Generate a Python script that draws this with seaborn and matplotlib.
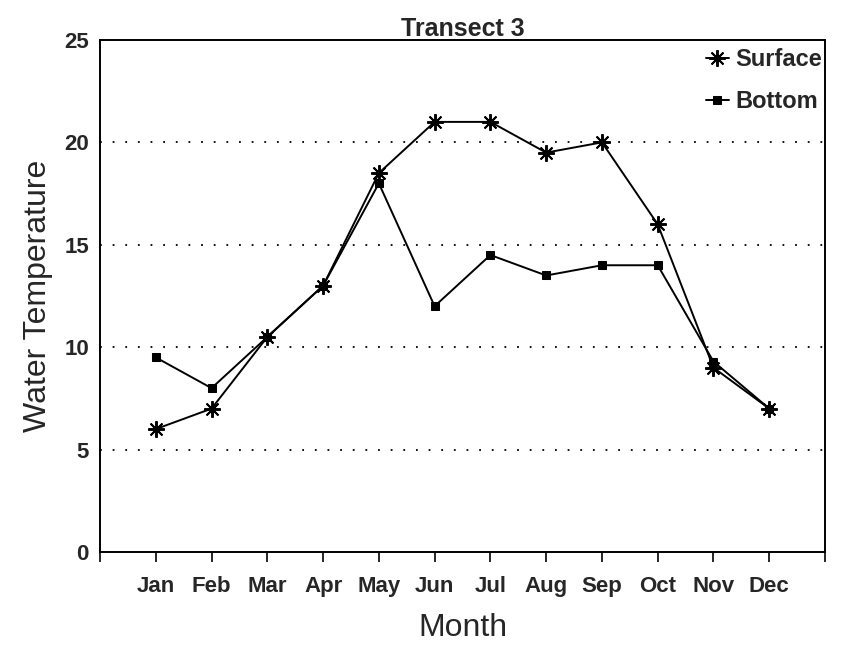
import pandas as pd
import matplotlib.pyplot as plt
import seaborn as sns

# --- datos ---
months = ['Jan', 'Feb', 'Mar', 'Apr', 'May', 'Jun', 'Jul', 'Aug', 'Sep', 'Oct', 'Nov', 'Dec']
month_num = list(range(1, 13))
surface = [6, 7, 10.5, 13, 18.5, 21, 21, 19.5, 20, 16, 9, 7]
bottom = [9.5, 8, 10.5, 13, 18, 12, 14.5, 13.5, 14, 14, 9.3, 7]

df = pd.DataFrame({'mes': month_num, 'Surface': surface, 'Bottom': bottom})

sns.set_style('white')
plt.rcParams['font.family'] = ['Liberation Sans', 'DejaVu Sans']

fig = plt.figure(figsize=(8.44, 6.5), dpi=100)
ax = fig.add_axes([0.1185, 0.1508, 0.859, 0.7877])

sns.lineplot(data=df, x='mes', y='Surface', color='black', lw=1.4,
             marker=(8, 2, 0), markersize=12, markeredgewidth=1.4,
             markeredgecolor='black', label='Surface', ax=ax)
sns.lineplot(data=df, x='mes', y='Bottom', color='black', lw=1.4,
             marker='s', markersize=6, markeredgecolor='black',
             label='Bottom', ax=ax)

ax.set_xlim(0, 13)
ax.set_ylim(0, 25)
ax.set_xticks(range(0, 14))
ax.set_xticklabels([''] + months + [''])
ax.set_yticks([0, 5, 10, 15, 20, 25])

for y in [5, 10, 15, 20]:
    ax.axhline(y, color='black', lw=1.3, ls=(0, (1, 6)), zorder=0)

for s in ax.spines.values():
    s.set_color('black')
    s.set_linewidth(1.4)

ax.tick_params(axis='x', which='major', direction='out', length=7, width=1.4,
               bottom=True, labelsize=16, pad=10)
ax.tick_params(axis='y', length=0, labelsize=16, pad=8)
for t in ax.get_xticklabels() + ax.get_yticklabels():
    t.set_fontweight('bold')

ax.set_title('Transect 3', fontsize=18, fontweight='bold', pad=3)
ax.set_xlabel('Month', fontsize=23, labelpad=12)
ax.set_ylabel('Water Temperature', fontsize=23, labelpad=8)

leg = ax.legend(loc='upper right', bbox_to_anchor=(1.025, 1.025), frameon=False,
                handlelength=1.0, handletextpad=0.25, labelspacing=0.8,
                prop={'size': 17, 'weight': 'bold'})

fig.savefig('out.png', dpi=100, facecolor='white')
